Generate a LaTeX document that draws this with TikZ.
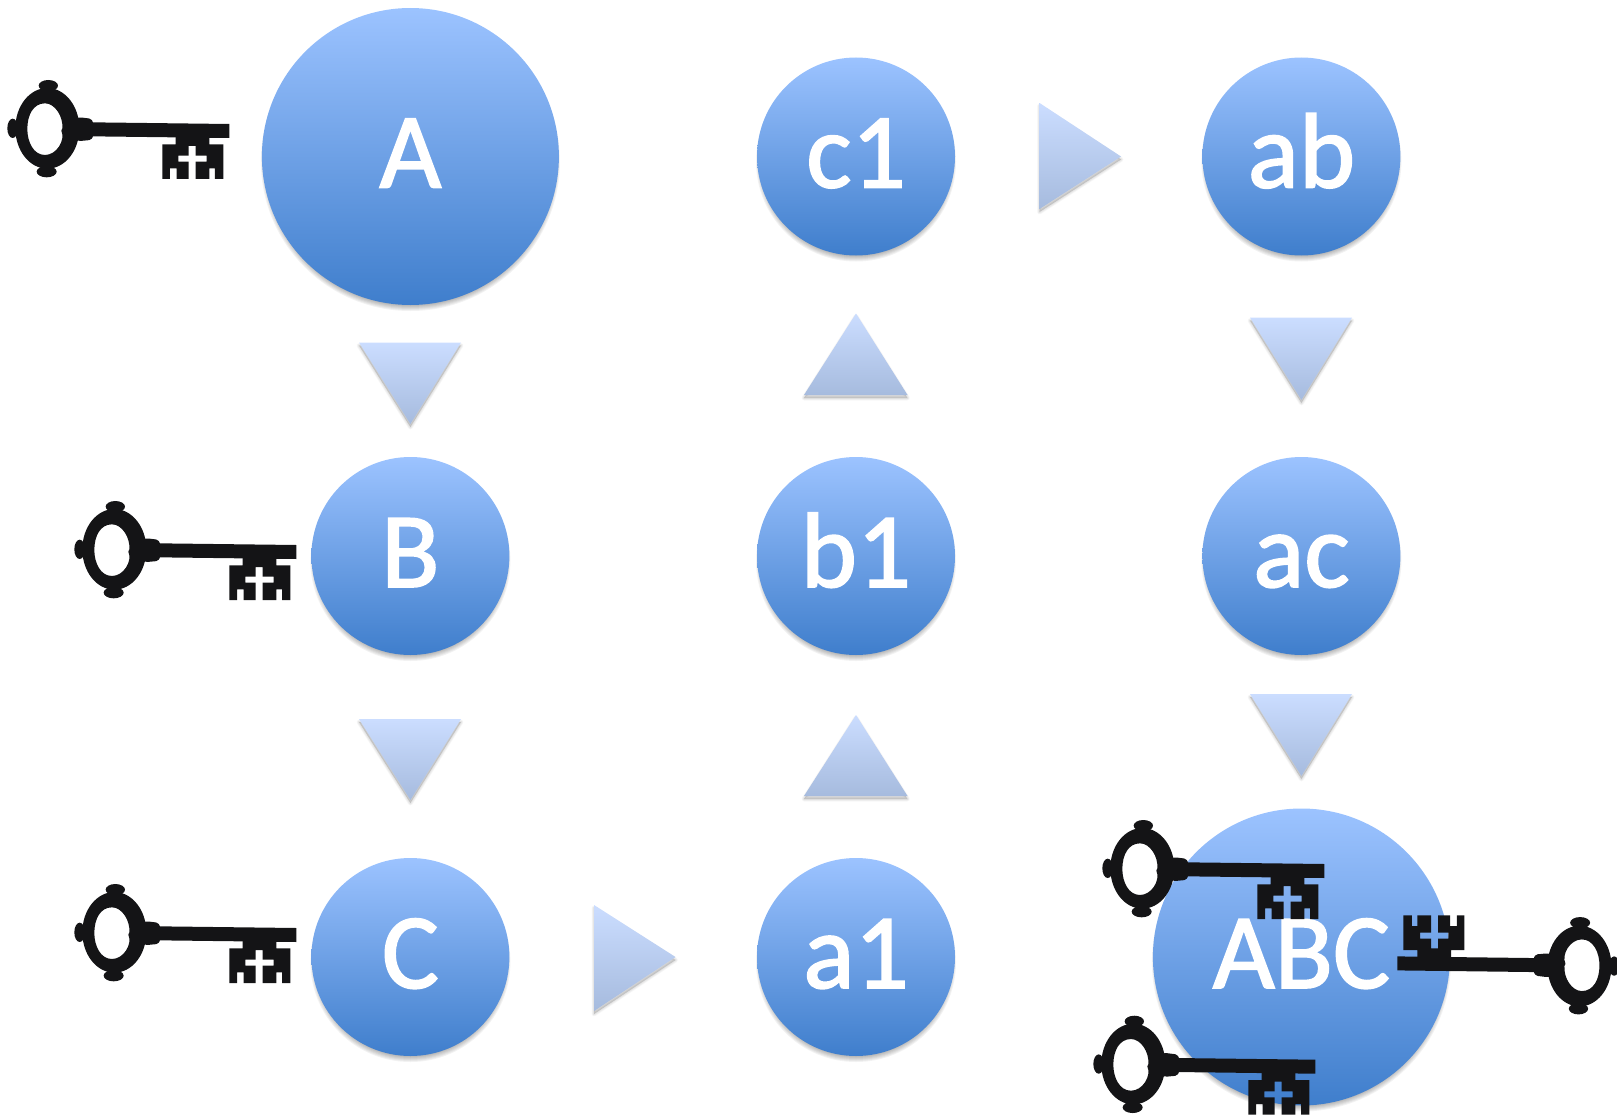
\documentclass[tikz,border=0pt]{standalone}
\usepackage{fontspec}
\setmainfont{Carlito}
\newfontfamily\ballfont{Carlito}[FakeBold=1.6]
\usetikzlibrary{shapes.geometric}
\definecolor{ctop}{HTML}{9CC3FF}
\definecolor{cbot}{HTML}{3F7ECC}
\definecolor{ttop}{HTML}{CBDDFF}
\definecolor{tbot}{HTML}{A6BBDE}
\definecolor{keyc}{HTML}{141416}
\newcommand{\softcircle}[3]{%
  \foreach \d in {1,2,...,6}{\fill[black,opacity=.05] (#1,#2+5) circle ({#3+2-\d});}%
}
\newcommand{\tri}[6]{%
  \foreach \d in {1,2,...,5}{\draw[black,opacity=.022,line width=\d pt,line join=round,fill=black,fill opacity=.03] (#1,#2+3) -- (#3,#4+3) -- (#5,#6+3) -- cycle;}%
  \shade[top color=ttop,bottom color=tbot] (#1,#2) -- (#3,#4) -- (#5,#6) -- cycle;%
}
\tikzset{
  ball/.style={circle,inner sep=0pt,outer sep=0pt,top color=ctop,bottom color=cbot,text=white,
    font=\ballfont\fontsize{107}{107}\selectfont,text height=72pt,text depth=10pt,align=center},
  bigball/.style={ball,minimum size=297pt},
  smallball/.style={ball,minimum size=198pt},
  keypic/.pic={
    \fill[keyc,even odd rule] (142,205) ellipse [x radius=96,y radius=121]
      (135,130) .. controls (165,130) and (190,170) .. (187,205) -- (184,212)
      .. controls (197,240) and (170,285) .. (135,285)
      .. controls (100,285) and (82,245) .. (82,207)
      .. controls (82,165) and (100,130) .. (135,130) -- cycle;
    \fill[keyc] (145,77) ellipse [x radius=29,y radius=17];
    \fill[keyc] (140,335) ellipse [x radius=30,y radius=17];
    \fill[keyc] (38,205) ellipse [x radius=16,y radius=29];
    \fill[keyc,rounded corners=1.5pt] (225,174) -- (240,172) -- (272,176) -- (280,187) -- (280,229) -- (272,240) -- (240,243) -- (225,240) -- cycle;
    \fill[keyc] (275,187) -- (688,192) -- (688,234) -- (275,229) -- cycle;
    \fill[keyc,even odd rule] (527,230) -- (628,230) -- (628,253) -- (670,253) -- (670,357)
      -- (645,357) -- (645,325) -- (628,325) -- (628,357) -- (587,357) -- (587,305) -- (620,305)
      -- (620,287) -- (587,287) -- (587,258) -- (566,258) -- (566,287) -- (535,287) -- (535,305)
      -- (566,305) -- (566,357) -- (530,357) -- (530,325) -- (510,325) -- (510,357) -- (487,357)
      -- (487,253) -- (527,253) -- cycle;
  }
}
\begin{document}
\begin{tikzpicture}[x=1pt,y=-1pt]
\useasboundingbox (0,0) rectangle (1617,1116);
% shadows
\softcircle{410.4}{156.5}{148.5}
\softcircle{410.4}{556}{99}
\softcircle{410.4}{957}{99}
\softcircle{856}{156.5}{99}
\softcircle{856}{556}{99}
\softcircle{856}{957}{99}
\softcircle{1301.4}{156.5}{99}
\softcircle{1301.4}{556}{99}
\softcircle{1301.4}{957}{148.5}
% circles
\node[bigball] (A) at (410.4,156.5) {A};
\node[smallball] (B) at (410.4,556) {B};
\node[smallball] (C) at (410.4,957) {C};
\node[smallball] (c1) at (856,156.5) {c1};
\node[smallball] (b1) at (856,556) {b1};
\node[smallball] (a1) at (856,957) {a1};
\node[smallball] (ab) at (1301.4,156.5) {ab};
\node[smallball] (ac) at (1301.4,556) {ac};
\node[bigball] (ABC) at (1301.4,957) {ABC};
% triangles
\tri{359}{342.5}{461}{342.5}{410.4}{424}
\tri{359}{719}{461}{719}{410.4}{800}
\tri{856}{313.5}{804}{395}{907.5}{395}
\tri{856}{715}{804}{796}{907.5}{796}
\tri{1039.5}{103}{1039.5}{209}{1121}{156.5}
\tri{594}{905}{594}{1011}{675.5}{957}
\tri{1250}{317.6}{1352}{317.6}{1301.4}{400}
\tri{1250}{694}{1352}{694}{1301.4}{776}
% keys
\pic[scale=.33333] at (0,60) {keypic};
\pic[scale=.33333] at (67,481) {keypic};
\pic[scale=.33333] at (67,864) {keypic};
\pic[scale=.33333] at (1095,800) {keypic};
\pic[scale=.33333] at (1086,995.7) {keypic};
\pic[scale=-.33333] at (1626.8,1034.4) {keypic};
\end{tikzpicture}
\end{document}
